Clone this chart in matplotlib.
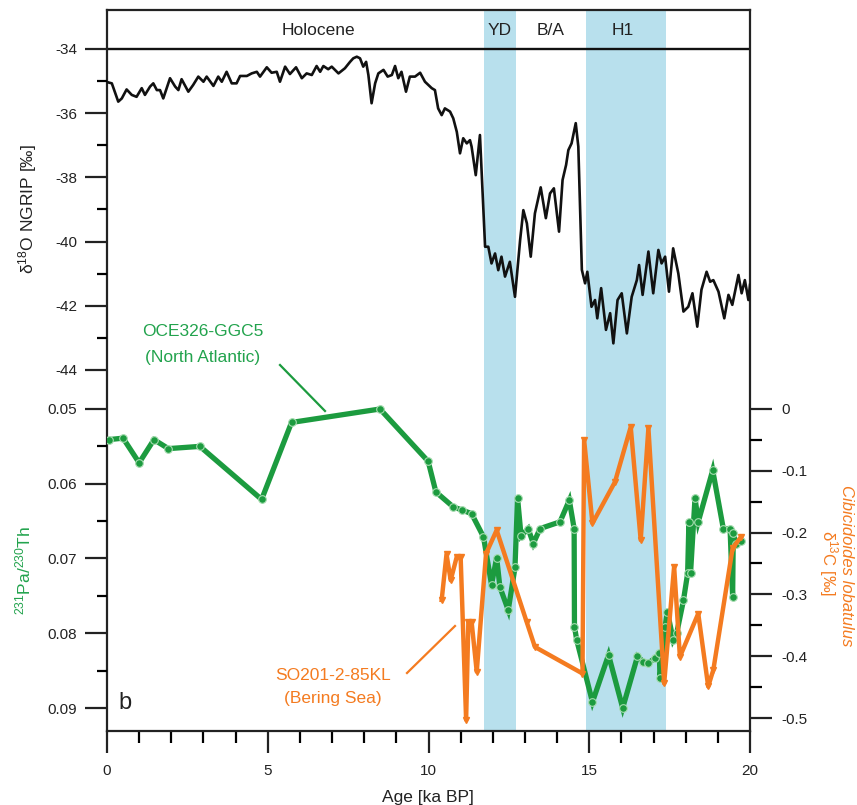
import matplotlib
matplotlib.use("Agg")
import matplotlib.pyplot as plt
from matplotlib.ticker import FixedLocator, FixedFormatter

plt.rcParams['font.family'] = ['Liberation Sans', 'DejaVu Sans']
plt.rcParams['axes.unicode_minus'] = False
plt.rcParams['mathtext.fontset'] = 'custom'
plt.rcParams['mathtext.rm'] = 'Liberation Sans'
plt.rcParams['mathtext.it'] = 'Liberation Sans:italic'
plt.rcParams['mathtext.bf'] = 'Liberation Sans:bold'

# ---------------- data ----------------
ngrip_age = [0.0, 0.15, 0.35, 0.46, 0.61, 0.77, 0.92, 1.08, 1.18, 1.34, 1.44, 1.55, 1.65, 1.75,
             1.96, 2.12, 2.22, 2.32, 2.53, 2.68, 2.84, 3.0, 3.1, 3.31, 3.46, 3.57, 3.72, 3.88,
             4.03, 4.14, 4.35, 4.5, 4.66, 4.76, 4.97, 5.12, 5.28, 5.38, 5.54, 5.69, 5.88, 6.06,
             6.21, 6.37, 6.52, 6.63, 6.73, 6.88, 6.99, 7.2, 7.4, 7.56, 7.66, 7.77, 7.87, 7.97,
             8.06, 8.13, 8.23, 8.34, 8.44, 8.6, 8.73, 8.86, 8.96, 9.06, 9.16, 9.3, 9.42, 9.58,
             9.74, 9.89, 10.1, 10.2, 10.3, 10.41, 10.51, 10.67, 10.77, 10.88, 10.98, 11.08,
             11.19, 11.29, 11.34, 11.47, 11.6, 11.76, 11.86, 11.96, 12.07, 12.17, 12.27, 12.38,
             12.53, 12.69, 12.85, 12.95, 13.06, 13.18, 13.31, 13.49, 13.65, 13.78, 13.9, 14.06,
             14.17, 14.28, 14.35, 14.45, 14.58, 14.66, 14.77, 14.87, 14.94, 15.07, 15.18, 15.25,
             15.37, 15.52, 15.65, 15.75, 15.88, 16.01, 16.17, 16.32, 16.48, 16.55, 16.66, 16.84,
             16.99, 17.15, 17.25, 17.36, 17.48, 17.61, 17.77, 17.93, 18.08, 18.21, 18.36, 18.49,
             18.65, 18.76, 18.86, 19.02, 19.2, 19.33, 19.45, 19.64, 19.74, 19.84, 19.95, 20.0]
ngrip_d18o = [-35.03, -35.07, -35.64, -35.54, -35.26, -35.43, -35.49, -35.22, -35.43, -35.17,
              -35.07, -35.28, -35.28, -35.54, -34.91, -35.17, -35.28, -34.94, -35.33, -35.12,
              -34.86, -35.02, -34.86, -35.15, -34.86, -35.02, -34.71, -35.07, -35.07, -34.84,
              -34.84, -34.76, -34.71, -34.86, -34.57, -34.74, -34.71, -35.02, -34.55, -34.78,
              -34.57, -34.91, -34.76, -34.81, -34.53, -34.71, -34.53, -34.63, -34.55, -34.76,
              -34.6, -34.4, -34.29, -34.24, -34.29, -34.55, -34.4, -34.81, -35.69, -35.07,
              -34.76, -34.65, -34.86, -34.81, -34.53, -34.91, -34.71, -35.33, -34.86, -34.86,
              -34.74, -35.02, -35.22, -35.28, -35.85, -36.06, -35.85, -35.95, -36.16, -36.58,
              -37.25, -36.78, -36.94, -36.84, -37.04, -37.93, -36.68, -40.16, -40.16, -40.68,
              -40.37, -40.89, -40.47, -41.09, -40.63, -41.72, -39.95, -39.02, -39.43, -40.47,
              -39.12, -38.31, -39.27, -38.5, -38.34, -39.69, -38.08, -37.61, -37.15, -36.94,
              -36.31, -37.04, -40.88, -41.3, -40.94, -42.03, -41.82, -42.39, -41.45, -42.75,
              -42.23, -43.17, -41.82, -41.61, -42.86, -41.72, -41.2, -40.73, -41.66, -40.31,
              -41.61, -40.26, -40.68, -40.47, -41.56, -40.21, -40.99, -42.18, -42.03, -41.61,
              -42.65, -41.5, -40.94, -41.25, -41.2, -41.56, -42.39, -41.66, -41.97, -41.04,
              -41.61, -41.2, -41.82, -41.35]

pa_age = [0.05, 0.5, 1.0, 1.46, 1.91, 2.89, 4.81, 5.74, 8.49, 9.99, 10.23, 10.77, 11.03, 11.34,
          11.71, 11.96, 12.12, 12.22, 12.48, 12.69, 12.77, 12.88, 13.1, 13.26, 13.47, 14.09,
          14.38, 14.53, 14.54, 14.61, 15.1, 15.6, 16.04, 16.5, 16.68, 16.84, 17.05, 17.18,
          17.2, 17.36, 17.43, 17.61, 17.72, 17.93, 18.06, 18.1, 18.15, 18.29, 18.39, 18.84,
          19.17, 19.38, 19.46, 19.48, 19.56, 19.71]
pa_ratio = [0.0541, 0.0539, 0.0572, 0.0541, 0.0553, 0.0550, 0.0621, 0.0518, 0.0500, 0.0570,
            0.0611, 0.0631, 0.0635, 0.0640, 0.0671, 0.0735, 0.0699, 0.0738, 0.0769, 0.0712,
            0.0619, 0.0670, 0.0660, 0.0680, 0.0660, 0.0651, 0.0622, 0.0660, 0.0791, 0.0809,
            0.0892, 0.0829, 0.0900, 0.0831, 0.0838, 0.0840, 0.0833, 0.0827, 0.0860, 0.0791,
            0.0771, 0.0809, 0.0800, 0.0756, 0.0720, 0.0651, 0.0720, 0.0619, 0.0651, 0.0582,
            0.0660, 0.0660, 0.0751, 0.0666, 0.0680, 0.0677]

c13_age = [10.41, 10.56, 10.69, 10.88, 11.0, 11.17, 11.24, 11.34, 11.5, 11.79, 12.12, 13.05,
           13.31, 14.79, 14.84, 15.1, 15.8, 16.29, 16.6, 16.84, 17.33, 17.64, 17.82, 18.39,
           18.7, 18.86, 19.46, 19.72]
c13_val = [-0.309, -0.235, -0.277, -0.239, -0.240, -0.503, -0.344, -0.344, -0.425, -0.234,
           -0.196, -0.344, -0.385, -0.428, -0.050, -0.185, -0.118, -0.029, -0.212, -0.031,
           -0.444, -0.255, -0.401, -0.331, -0.449, -0.422, -0.225, -0.207]

period_names = ["Holocene", "YD", "B/A", "H1"]
period_centers = [6.57, 12.2, 13.8, 16.05]
band_starts = [11.73, 14.9]
band_ends = [12.72, 17.4]

ngrip_ticks = [-34, -36, -38, -40, -42, -44]
ngrip_labels = ["-34", "-36", "-38", "-40", "-42", "-44"]
ngrip_minor = [-35, -37, -39, -41, -43]
pa_ticks = [0.05, 0.06, 0.07, 0.08, 0.09]
pa_labels = ["0.05", "0.06", "0.07", "0.08", "0.09"]
pa_minor = [0.055, 0.065, 0.075, 0.085]
c13_ticks = [0, -0.1, -0.2, -0.3, -0.4, -0.5]
c13_labels = ["0", "-0.1", "-0.2", "-0.3", "-0.4", "-0.5"]
c13_minor = [-0.05, -0.15, -0.25, -0.35, -0.45]
x_ticks = [0, 5, 10, 15, 20]
x_labels = ["0", "5", "10", "15", "20"]
x_minor = [1, 2, 3, 4, 6, 7, 8, 9, 11, 12, 13, 14, 16, 17, 18, 19]

# ---------------- layout ----------------
W, H = 857, 805
L, R, T, B = 107, 750, 10, 731
GREEN = '#1c9b3f'
GREEN_T = '#22a34d'
ORANGE = '#f47b20'
BLUE = '#b8e0ed'
INK = '#222222'
PX = 0.72  # points per pixel

fig = plt.figure(figsize=(W / 100, H / 100), dpi=100)
rect = [L / W, 1 - B / H, (R - L) / W, (B - T) / H]


def fx(p):
    return p / W


def fy(p):
    return 1 - p / H


def lims(v0, p0, scale):
    # scale: pixels per unit, positive means values increase upward
    return (v0 - (B - p0) / scale, v0 + (p0 - T) / scale)


ax0 = fig.add_axes(rect, label='base')
ax0.set_xlim(0, 20)
ax0.set_ylim(B, T)  # pixel coordinates vertically
for s in ax0.spines.values():
    s.set_linewidth(1.6)
    s.set_color(INK)
for a0, a1 in zip(band_starts, band_ends):
    ax0.axvspan(a0, a1, color=BLUE, lw=0, zorder=0)
ax0.axhline(49, color='#111111', lw=1.7, zorder=2)
for name, c in zip(period_names, period_centers):
    ax0.text(c, 31, name, ha='center', va='center', fontsize=12.5, color=INK)
ax0.set_yticks([])
ax0.xaxis.set_major_locator(FixedLocator(x_ticks))
ax0.xaxis.set_major_formatter(FixedFormatter(x_labels))
ax0.xaxis.set_minor_locator(FixedLocator(x_minor))
ax0.tick_params(axis='x', which='major', direction='out', length=22 * PX, width=1.6,
                pad=11 * PX, labelsize=11, colors=INK)
ax0.tick_params(axis='x', which='minor', direction='out', length=12 * PX, width=1.6)
ax0.text(0.35, 703, "b", ha='left', va='center', fontsize=17, color=INK)


def overlay(lbl, ylim):
    a = fig.add_axes(rect, label=lbl, sharex=ax0)
    a.set_facecolor('none')
    for s in a.spines.values():
        s.set_visible(False)
    a.set_ylim(*ylim)
    a.tick_params(axis='x', which='both', bottom=False, labelbottom=False)
    return a


# NGRIP axis
ax1 = overlay('ngrip', lims(-34, 49, 32.1))
ax1.plot(ngrip_age, ngrip_d18o, color='#111111', lw=1.9, zorder=3)
ax1.yaxis.set_major_locator(FixedLocator(ngrip_ticks))
ax1.yaxis.set_major_formatter(FixedFormatter(ngrip_labels))
ax1.yaxis.set_minor_locator(FixedLocator(ngrip_minor))
ax1.tick_params(axis='y', which='major', direction='out', length=22 * PX, width=1.6,
                pad=8 * PX, labelsize=11, colors=INK)
ax1.tick_params(axis='y', which='minor', direction='out', length=10 * PX, width=1.6)

# Pa/Th axis (inverted)
ax2 = overlay('pa', lims(0.05, 409, -7475))
ax2.plot(pa_age, pa_ratio, color=GREEN, lw=3.8, marker='o', ms=5.5, mfc=GREEN,
         mec='#a6dcb0', mew=0.8, zorder=3, solid_joinstyle='miter')
ax2.yaxis.set_major_locator(FixedLocator(pa_ticks))
ax2.yaxis.set_major_formatter(FixedFormatter(pa_labels))
ax2.yaxis.set_minor_locator(FixedLocator(pa_minor))
ax2.tick_params(axis='y', which='major', direction='out', length=22 * PX, width=1.6,
                pad=8 * PX, labelsize=11, colors=INK)
ax2.tick_params(axis='y', which='minor', direction='out', length=10 * PX, width=1.6)

# d13C axis (right)
ax3 = overlay('c13', lims(0, 409, 618))
ax3.plot(c13_age, c13_val, color=ORANGE, lw=3.2, marker='v', ms=5, mfc=ORANGE,
         mec=ORANGE, zorder=3)
ax3.yaxis.tick_right()
ax3.yaxis.set_major_locator(FixedLocator(c13_ticks))
ax3.yaxis.set_major_formatter(FixedFormatter(c13_labels))
ax3.yaxis.set_minor_locator(FixedLocator(c13_minor))
ax3.tick_params(axis='y', which='major', direction='out', length=22 * PX, width=1.6,
                pad=9 * PX, labelsize=11, colors=INK)
ax3.tick_params(axis='y', which='minor', direction='out', length=12 * PX, width=1.6)

# axis labels
fig.text(fx(28), fy(209), "δ$^{18}$O NGRIP [‰]", rotation=90, ha='center', va='center',
         fontsize=12.5, color=INK)
fig.text(fx(23), fy(570), "$^{231}$Pa/$^{230}$Th", rotation=90, ha='center', va='center',
         fontsize=12.5, color=GREEN_T)
fig.text(fx(828), fy(563), "δ$^{13}$C [‰]", rotation=-90, ha='center', va='center',
         fontsize=12, color=ORANGE)
fig.text(fx(847), fy(566), "Cibicidoides lobatulus", rotation=-90, ha='center', va='center',
         fontsize=12, color=ORANGE, style='italic')
fig.text(fx(428), fy(797), "Age [ka BP]", ha='center', va='center', fontsize=12.5, color=INK)

# annotations
fig.text(fx(203), fy(331), "OCE326-GGC5", ha='center', va='center', fontsize=12.5, color=GREEN_T)
fig.text(fx(203), fy(357), "(North Atlantic)", ha='center', va='center', fontsize=12.5,
         color=GREEN_T)
fig.add_artist(plt.Line2D([fx(280), fx(325)], [fy(365), fy(411)], color=GREEN, lw=1.6))
fig.text(fx(333), fy(675), "SO201-2-85KL", ha='center', va='center', fontsize=12.5,
         color=ORANGE)
fig.text(fx(333), fy(699), "(Bering Sea)", ha='center', va='center', fontsize=12.5,
         color=ORANGE)
fig.add_artist(plt.Line2D([fx(407), fx(455)], [fy(673), fy(626)], color=ORANGE, lw=1.6))

fig.savefig("out.png", dpi=100)
